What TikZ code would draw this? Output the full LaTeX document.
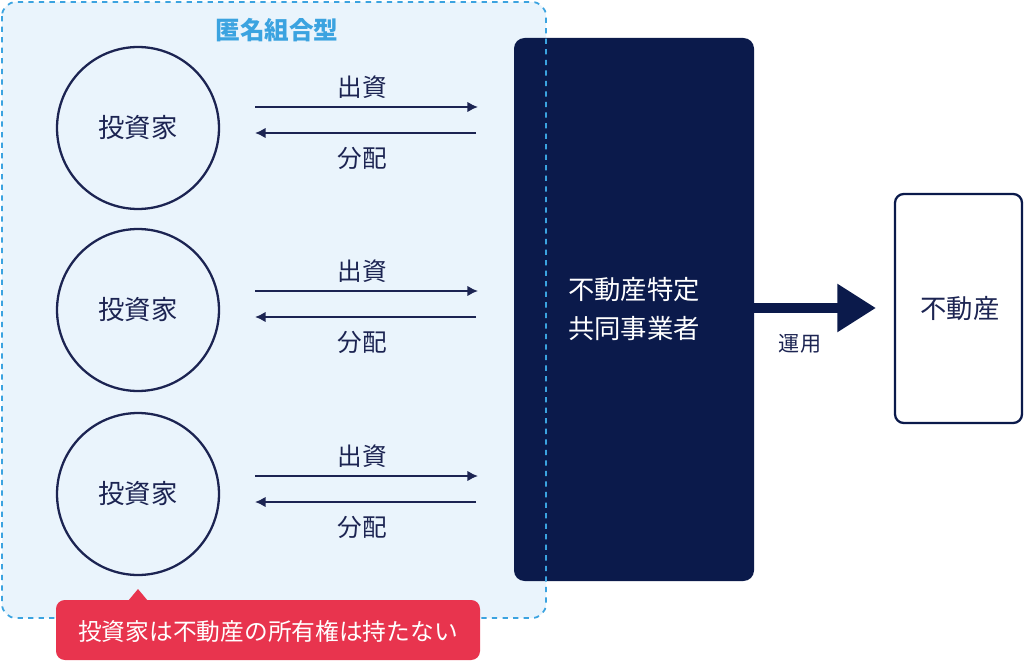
\documentclass[tikz,border=0pt]{standalone}
\usepackage{fontspec}
\setmainfont{Noto Sans CJK JP}
\usetikzlibrary{arrows.meta}
\definecolor{navy}{HTML}{0B1A4B}
\definecolor{ink}{HTML}{1C2452}
\definecolor{skyfill}{HTML}{EAF4FC}
\definecolor{skyline}{HTML}{3BA3E0}
\definecolor{alert}{HTML}{E8344E}
\tikzset{
  inv/.style={circle,draw=ink,line width=1.3pt,minimum size=3.24cm,inner sep=0pt,font=\fontsize{15}{18}\selectfont,text=ink},
  lbl/.style={font=\fontsize{14}{17}\selectfont,text=ink},
  flow/.style={draw=ink,line width=1.1pt,-{Latex[length=6pt,width=6pt]}}
}
\begin{document}
\begin{tikzpicture}[x=0.02cm,y=-0.02cm]
\useasboundingbox (0,0) rectangle (1024,662);
\fill[skyfill,rounded corners=8pt] (2,2) rectangle (546,618);
\node[font=\bfseries\fontsize{14}{17}\selectfont,text=skyline] (title) at (277,30) {匿名組合型};
\fill[navy,rounded corners=6pt] (514,38) rectangle (754,581);
\draw[skyline,dashed,line width=1pt,rounded corners=8pt] (2,2) rectangle (546,618);
\node[text=white,align=left,font=\fontsize{15}{22}\selectfont] (biz) at (634,309) {不動産特定\\共同事業者};
\foreach \i/\cy/\ya/\yb in {1/128/107/133,2/310/291/317,3/494/476/502}{
  \node[inv] (c\i) at (138,\cy) {投資家};
  \coordinate (a\i s) at (255,\ya); \coordinate (a\i e) at (478,\ya);
  \coordinate (b\i s) at (476,\yb); \coordinate (b\i e) at (255,\yb);
  \draw[flow] (a\i s) -- (a\i e);
  \draw[flow] (b\i s) -- (b\i e);
  \node[lbl] (o\i) at (362,\ya-20) {出資};
  \node[lbl] (d\i) at (362,\yb+25) {分配};
}
\draw[navy,rounded corners=5pt,line width=1.3pt] (895,194) rectangle (1022,423);
\node[font=\fontsize{15}{18}\selectfont,text=ink] (re) at (960,309) {不動産};
\coordinate (t1) at (754,308); \coordinate (t2) at (876,308);
\draw[navy,line width=6pt,-{Triangle[length=22pt,width=26pt]}] (t1) -- (t2);
\node[font=\fontsize{12}{15}\selectfont,text=ink] (un) at (800,344) {運用};
\fill[alert,rounded corners=5pt] (56,600) rectangle (480,660);
\fill[alert] (128,601) -- (138,589) -- (148,601) -- cycle;
\node[text=white,font=\fontsize{13.5}{17}\selectfont] (note) at (268,631) {投資家は不動産の所有権は持たない};
\end{tikzpicture}
\end{document}
